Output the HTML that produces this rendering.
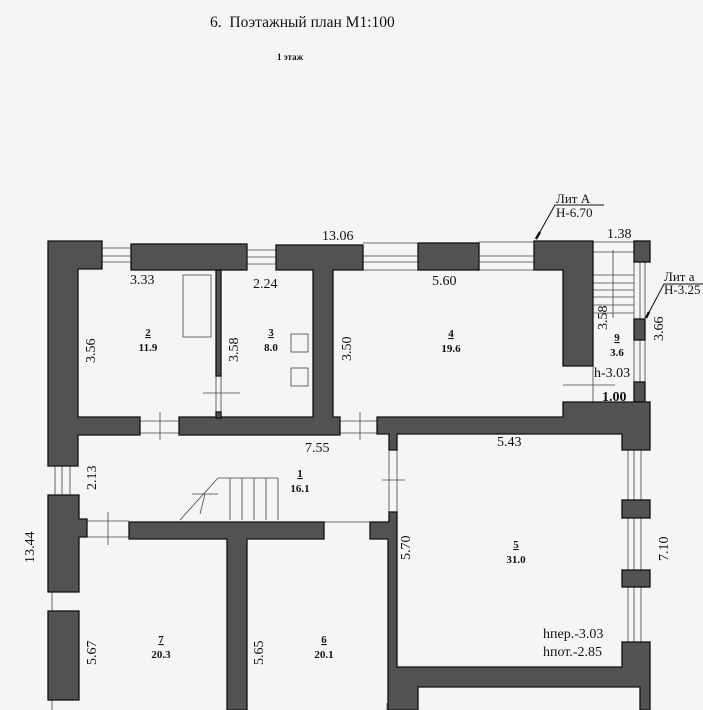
<!DOCTYPE html>
<html><head><meta charset="utf-8"><style>
html,body{margin:0;padding:0;background:#f5f5f4;}
svg{display:block;}
text{font-family:"Liberation Serif",serif;fill:#111;}
.d{font-size:14px;}
.r{font-size:11px;font-weight:bold;}
</style></head><body>
<svg width="703" height="710" viewBox="0 0 703 710" xmlns="http://www.w3.org/2000/svg">
<rect width="703" height="710" fill="#f5f5f4"/>
<text x="210" y="27" font-size="15.5" xml:space="preserve">6.  Поэтажный план М1:100</text>
<text x="277" y="60" font-size="9" font-weight="bold">1 этаж</text>

<g fill="none" stroke="#444" stroke-width="0.8">
<line x1="102" y1="248" x2="131" y2="248"/><line x1="102" y1="256" x2="131" y2="256"/><line x1="102" y1="262" x2="131" y2="262"/>
<line x1="247" y1="250" x2="276" y2="250"/><line x1="247" y1="257" x2="276" y2="257"/><line x1="247" y1="264" x2="276" y2="264"/>
<line x1="363" y1="243" x2="418" y2="243"/><line x1="363" y1="256" x2="418" y2="256"/><line x1="363" y1="262" x2="418" y2="262"/><line x1="363" y1="270" x2="418" y2="270"/>
<line x1="479" y1="242" x2="534" y2="242"/><line x1="479" y1="256" x2="534" y2="256"/><line x1="479" y1="262" x2="534" y2="262"/><line x1="479" y1="270" x2="534" y2="270"/>
<line x1="593" y1="242" x2="634" y2="242"/><line x1="593" y1="252" x2="634" y2="252"/>
<line x1="593" y1="275" x2="634" y2="275"/><line x1="593" y1="283" x2="634" y2="283"/><line x1="593" y1="290" x2="634" y2="290"/><line x1="593" y1="297" x2="634" y2="297"/><line x1="593" y1="305" x2="634" y2="305"/><line x1="593" y1="313" x2="634" y2="313"/>
<line x1="634" y1="262" x2="634" y2="402"/><line x1="640" y1="262" x2="640" y2="402"/><line x1="645" y1="262" x2="645" y2="402"/>
<line x1="613" y1="250" x2="613" y2="318"/>
<line x1="563" y1="385" x2="615" y2="385"/><line x1="593" y1="366" x2="593" y2="402"/>
<line x1="216" y1="376" x2="216" y2="412"/><line x1="221" y1="376" x2="221" y2="412"/><line x1="203" y1="393" x2="240" y2="393"/>
<line x1="140" y1="421" x2="179" y2="421"/><line x1="140" y1="433" x2="179" y2="433"/><line x1="160" y1="412" x2="160" y2="440"/>
<line x1="340" y1="421" x2="377" y2="421"/><line x1="340" y1="433" x2="377" y2="433"/><line x1="360" y1="412" x2="360" y2="440"/>
<line x1="55" y1="466" x2="55" y2="495"/><line x1="62" y1="466" x2="62" y2="495"/><line x1="70" y1="466" x2="70" y2="495"/>
<line x1="87" y1="521" x2="129" y2="521"/><line x1="87" y1="537" x2="129" y2="537"/><line x1="108" y1="512" x2="108" y2="545"/>
<line x1="52" y1="592" x2="52" y2="612"/><line x1="52" y1="700" x2="52" y2="710"/>
<line x1="389" y1="450" x2="389" y2="512"/><line x1="397" y1="450" x2="397" y2="512"/><line x1="382" y1="480" x2="405" y2="480"/>
<line x1="324" y1="522" x2="370" y2="522"/>
<line x1="628" y1="450" x2="628" y2="500"/><line x1="634" y1="450" x2="634" y2="500"/><line x1="641" y1="450" x2="641" y2="500"/>
<line x1="628" y1="518" x2="628" y2="570"/><line x1="634" y1="518" x2="634" y2="570"/><line x1="641" y1="518" x2="641" y2="570"/>
<line x1="628" y1="587" x2="628" y2="642"/><line x1="634" y1="587" x2="634" y2="642"/><line x1="641" y1="587" x2="641" y2="642"/>
<polyline points="180,520 218,478 278,478 278,520"/>
<line x1="230" y1="478" x2="230" y2="520"/><line x1="242" y1="478" x2="242" y2="520"/><line x1="254" y1="478" x2="254" y2="520"/><line x1="266" y1="478" x2="266" y2="520"/>
<line x1="192" y1="494" x2="218" y2="494"/><line x1="205" y1="494" x2="200" y2="514"/>
<rect x="183" y="275" width="28" height="62"/>
<rect x="291" y="334" width="17" height="18"/><rect x="291" y="368" width="17" height="18"/>
<line x1="387" y1="703" x2="387" y2="710"/>
</g>

<g fill="#525252" stroke="#111" stroke-width="1.3">
<polygon points="48,241 102,241 102,269 78,269 78,417 140,417 140,435 78,435 78,466 48,466"/>
<rect x="131" y="244" width="116" height="26"/>
<polygon points="276,245 363,245 363,270 333,270 333,417 340,417 340,435 179,435 179,417 313,417 313,270 276,270"/>
<rect x="216" y="270" width="5" height="106"/>
<rect x="216" y="412" width="5" height="6"/>
<rect x="418" y="243" width="61" height="27"/>
<polygon points="534,241 593,241 593,366 563,366 563,270 534,270"/>
<rect x="634" y="241" width="16" height="21"/>
<rect x="634" y="319" width="11" height="21"/>
<rect x="634" y="382" width="11" height="20"/>
<polygon points="377,417 563,417 563,402 650,402 650,450 622,450 622,434 397,434 397,450 389,450 389,434 377,434"/>
<rect x="622" y="500" width="28" height="18"/>
<rect x="622" y="570" width="28" height="17"/>
<polygon points="389,512 397,512 397,667 622,667 622,642 650,642 650,710 640,710 640,687 418,687 418,710 388,710 388,539 370,539 370,522 389,522"/>
<polygon points="48,495 79,495 79,519 87,519 87,537 79,537 79,592 48,592"/>
<rect x="48" y="611" width="31" height="89"/>
<polygon points="129,522 324,522 324,539 247,539 247,710 227,710 227,539 129,539"/>
</g>

<g stroke="#111" stroke-width="1" fill="none">
<polyline points="536,239 555,205 604,205"/>
<polyline points="646,318 664,284 703,284"/>
<line x1="536" y1="239" x2="540" y2="232" stroke-width="2.5"/>
<line x1="646" y1="318" x2="649" y2="312" stroke-width="2.5"/>
</g>
<text x="556" y="203" font-size="13">Лит А</text>
<text x="556" y="217" font-size="13">Н-6.70</text>
<text x="664" y="281" font-size="13">Лит а</text>
<text x="664" y="294" font-size="13">Н-3.25</text>

<text class="d" x="322" y="240">13.06</text>
<text class="d" x="130" y="284">3.33</text>
<text class="d" x="253" y="288">2.24</text>
<text class="d" x="432" y="285">5.60</text>
<text class="d" x="607" y="238">1.38</text>
<text class="d" x="594" y="377">h-3.03</text>
<text class="d" x="602" y="401" font-weight="bold" font-size="12">1.00</text>
<text class="d" x="305" y="452">7.55</text>
<text class="d" x="497" y="446">5.43</text>
<text class="d" x="543" y="638">hпер.-3.03</text>
<text class="d" x="543" y="656">hпот.-2.85</text>
<g class="d">
<text transform="translate(95,363) rotate(-90)">3.56</text>
<text transform="translate(238,362) rotate(-90)">3.58</text>
<text transform="translate(351,361) rotate(-90)">3.50</text>
<text transform="translate(607,330) rotate(-90)">3.58</text>
<text transform="translate(663,341) rotate(-90)">3.66</text>
<text transform="translate(96,490) rotate(-90)">2.13</text>
<text transform="translate(34,563) rotate(-90)">13.44</text>
<text transform="translate(410,560) rotate(-90)">5.70</text>
<text transform="translate(668,561) rotate(-90)">7.10</text>
<text transform="translate(96,665) rotate(-90)">5.67</text>
<text transform="translate(263,665) rotate(-90)">5.65</text>
</g>
<g class="r" text-anchor="middle">
<text x="148" y="336" text-decoration="underline">2</text><text x="148" y="351">11.9</text>
<text x="271" y="336" text-decoration="underline">3</text><text x="271" y="351">8.0</text>
<text x="451" y="337" text-decoration="underline">4</text><text x="451" y="352">19.6</text>
<text x="617" y="341" text-decoration="underline">9</text><text x="617" y="356">3.6</text>
<text x="300" y="477" text-decoration="underline">1</text><text x="300" y="492">16.1</text>
<text x="516" y="548" text-decoration="underline">5</text><text x="516" y="563">31.0</text>
<text x="161" y="643" text-decoration="underline">7</text><text x="161" y="658">20.3</text>
<text x="324" y="643" text-decoration="underline">6</text><text x="324" y="658">20.1</text>
</g>
</svg>
</body></html>
